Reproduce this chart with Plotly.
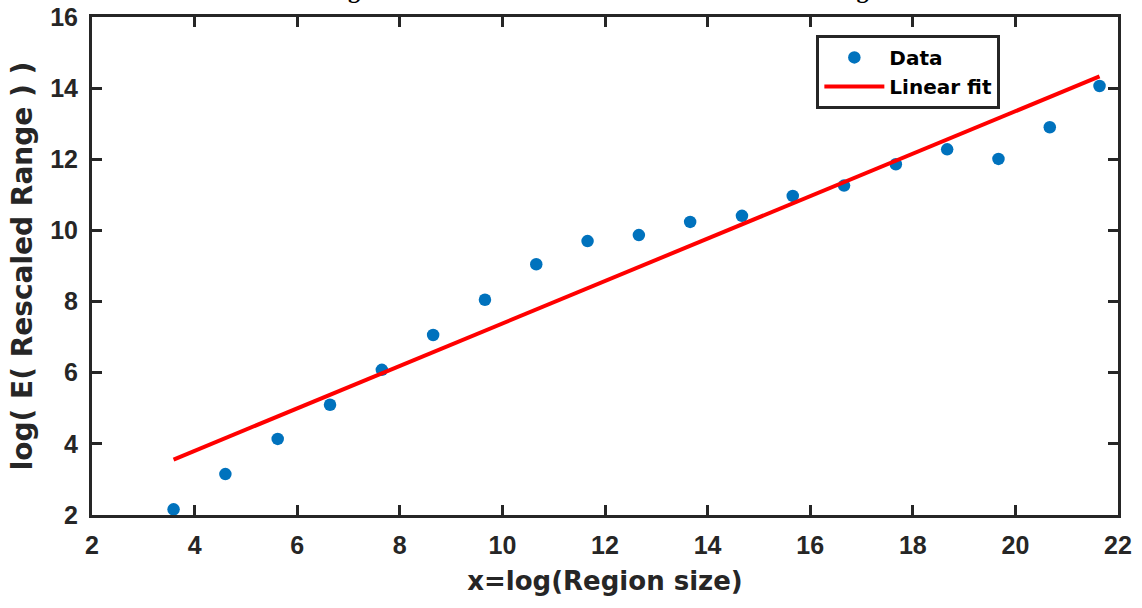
import numpy as np
import plotly.graph_objects as go

# Data
x_data = [3.59, 4.60, 5.62, 6.64, 7.65, 8.65, 9.66, 10.66, 11.66, 12.66,
          13.66, 14.67, 15.66, 16.66, 17.67, 18.67, 19.67, 20.67, 21.64]
y_data = [2.16, 3.15, 4.14, 5.10, 6.08, 7.06, 8.05, 9.05, 9.70, 9.87,
          10.24, 10.41, 10.97, 11.26, 11.86, 12.28, 12.01, 12.90, 14.06]

x_ticks = [2, 4, 6, 8, 10, 12, 14, 16, 18, 20, 22]
y_ticks = [2, 4, 6, 8, 10, 12, 14, 16]

title_text = "Log of the Rescaled Statistic versus the Window Length"
x_title = "x=log(Region size)"
y_title = "log( E( Rescaled Range ) )"

# Linear fit computed from data
coef = np.polyfit(x_data, y_data, 1)
x_fit = [x_data[0], x_data[-1]]
y_fit = list(np.polyval(coef, x_fit))

AX = "#262626"
FONT = "Arial, Liberation Sans, sans-serif"
WIDE = "DejaVu Sans, Arial, sans-serif"

fig = go.Figure()
fig.add_trace(go.Scatter(
    x=x_data, y=y_data, mode="markers", name="Data",
    marker=dict(color="#0072BD", size=12.5, line=dict(width=0)),
))
fig.add_trace(go.Scatter(
    x=x_fit, y=y_fit, mode="lines", name="Linear fit",
    line=dict(color="#FF0000", width=4),
))

axis_common = dict(
    showline=True, linewidth=3, linecolor=AX, mirror="ticks",
    ticks="inside", ticklen=10, tickwidth=2.5, tickcolor=AX,
    showgrid=False, zeroline=False, automargin=False,
    tickfont=dict(family=FONT, size=25, color=AX, weight="bold"),
)

fig.update_layout(
    width=1142, height=608,
    margin=dict(l=92, r=24, t=17, b=93),
    plot_bgcolor="white", paper_bgcolor="white",
    showlegend=True,
    legend=dict(
        x=0.706, y=0.964, xanchor="left", yanchor="top",
        bgcolor="white", bordercolor=AX, borderwidth=3,
        font=dict(family=WIDE, size=20, color="black", weight="bold"),
        itemwidth=60, tracegroupgap=0,
    ),
    xaxis=dict(
        range=[2, 22], tickvals=x_ticks, ticklabelstandoff=6,
        title=dict(text=x_title, standoff=14,
                   font=dict(family=WIDE, size=26, color=AX, weight="bold")),
        **axis_common,
    ),
    yaxis=dict(
        range=[2, 16], tickvals=y_ticks, ticklabelstandoff=6,
        title=dict(text=y_title, standoff=10,
                   font=dict(family=WIDE, size=28, color=AX, weight="bold")),
        **axis_common,
    ),
    annotations=[dict(
        text=title_text, xref="paper", yref="paper", x=0.5, y=1.055,
        xanchor="center", yanchor="middle", showarrow=False,
        font=dict(family="Liberation Serif, Times New Roman, serif", size=24,
                  color="black", weight="bold"),
    )],
)

fig.write_html("out.html")
